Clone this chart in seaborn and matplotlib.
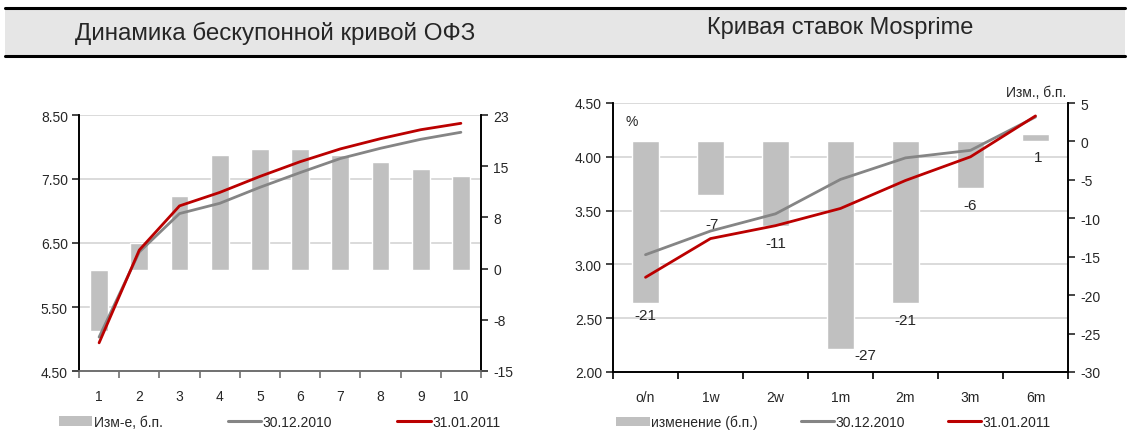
import numpy as np
import pandas as pd
import matplotlib
matplotlib.use('agg')
import matplotlib.pyplot as plt
import matplotlib.transforms as mtransforms
from matplotlib.patches import Patch, Rectangle
from matplotlib.lines import Line2D
import seaborn as sns

# ---- data: zero-coupon OFZ curve
ofz_terms = ['1', '2', '3', '4', '5', '6', '7', '8', '9', '10']
ofz_chg = [-9, 4, 11, 17, 18, 18, 17, 16, 15, 14]
ofz_dec = [5.03, 6.36, 6.96, 7.12, 7.37, 7.60, 7.82, 7.98, 8.12, 8.23]
ofz_jan = [4.94, 6.39, 7.08, 7.29, 7.54, 7.77, 7.97, 8.13, 8.27, 8.37]

# ---- data: Mosprime curve
mp_terms = ['o/n', '1w', '2w', '1m', '2m', '3m', '6m']
mp_chg = [-21, -7, -11, -27, -21, -6, 1]
mp_dec = [3.09, 3.31, 3.47, 3.79, 3.99, 4.06, 4.37]
mp_jan = [2.88, 3.24, 3.36, 3.52, 3.78, 4.00, 4.38]

ofz_df = pd.DataFrame({'term': ofz_terms, 'chg': ofz_chg, 'dec': ofz_dec, 'jan': ofz_jan})
mp_df = pd.DataFrame({'term': mp_terms, 'chg': mp_chg, 'dec': mp_dec, 'jan': mp_jan})

BAR_C = '#C0C0C0'
GRAY_C = '#858585'
RED_C = '#BB0000'
GRID_C = '#D4D4D4'

sns.set_style('white', {'xtick.bottom': True, 'ytick.left': True})
plt.rcParams['font.family'] = ['Liberation Sans', 'DejaVu Sans']
plt.rcParams['font.size'] = 10

fig = plt.figure(figsize=(11.36, 4.35), dpi=100)

# title band
fig.patches.append(Rectangle((5 / 1136, 1 - 57 / 435), 1120 / 1136, 48 / 435,
                             transform=fig.transFigure, facecolor='#E6E6E6', edgecolor='none'))
for yy in (9, 57):
    fig.lines.append(Line2D([5 / 1136, 1125 / 1136], [1 - yy / 435] * 2,
                            transform=fig.transFigure, color='black', lw=2.2))
fig.text(275 / 1136, 1 - 33 / 435, 'Динамика бескупонной кривой ОФЗ',
         ha='center', va='center', fontsize=17.4)
fig.text(840 / 1136, 1 - 28 / 435, 'Кривая ставок Mosprime', ha='center', va='center', fontsize=17)


def combo(rect, df, ylim_l, yticks_l, ylim_r, yticks_r, rlabels, bar_w, bottom_c):
    ax = fig.add_axes(rect)
    axb = ax.twinx()
    ax.set_zorder(axb.get_zorder() + 1)
    ax.patch.set_visible(False)
    n = len(df)
    pos = np.arange(n)

    sns.barplot(data=df, x='term', y='chg', ax=axb, color=BAR_C, width=bar_w,
                saturation=1, zorder=2)
    sns.lineplot(x=pos, y=df['dec'], ax=ax, color=GRAY_C, lw=2.0)
    sns.lineplot(x=pos, y=df['jan'], ax=ax, color=RED_C, lw=2.0)

    ax.set_ylim(*ylim_l)
    ax.set_yticks(yticks_l)
    ax.set_yticklabels([f'{v:.2f}' for v in yticks_l])
    axb.set_ylim(*ylim_r)
    axb.set_yticks(yticks_r)
    axb.set_yticklabels(rlabels)

    # gridlines at left-axis ticks, kept behind bars
    tr = mtransforms.blended_transform_factory(axb.transAxes, ax.transData)
    for v in yticks_l[1:]:
        axb.plot([0, 1], [v, v], transform=tr, color=GRID_C, lw=1.2, zorder=0)

    ax.set_xlim(-0.5, n - 0.5)
    ax.set_xticks(np.arange(n + 1) - 0.5)
    ax.set_xticklabels([])
    ax.set_xticks(pos, minor=True)
    ax.set_xticklabels(df['term'], minor=True)
    ax.xaxis.set_tick_params(which='major', bottom=True, direction='out', length=5,
                             width=1.2, color=bottom_c)
    ax.xaxis.set_tick_params(which='minor', bottom=True, length=0, pad=13, labelsize=10)
    ax.tick_params(axis='y', direction='out', length=5, width=1.2, pad=3, labelsize=10, left=True)
    axb.tick_params(axis='y', direction='out', length=5, width=1.2, pad=4, labelsize=10, right=True)
    axb.set_xlabel('')
    axb.set_ylabel('')
    ax.set_xlabel('')
    ax.set_ylabel('')

    for a in (ax, axb):
        a.spines['top'].set_visible(False)
        a.spines['left'].set_color('black')
        a.spines['right'].set_color('black')
        a.spines['bottom'].set_color(bottom_c)
        for s in ('left', 'right', 'bottom'):
            a.spines[s].set_linewidth(1.2)
    return ax, axb


# ---- left chart
ax1, ax1b = combo([79 / 1136, 1 - 372 / 435, 402 / 1136, 256 / 435], ofz_df,
                  (4.5, 8.5), [4.5, 5.5, 6.5, 7.5, 8.5],
                  (-15, 23), np.linspace(-15, 23, 6), ['-15', '-8', '0', '8', '15', '23'],
                  0.44, '#707070')
h1 = [Patch(facecolor=BAR_C, edgecolor='none'),
      Line2D([], [], color=GRAY_C, lw=2.2), Line2D([], [], color=RED_C, lw=2.2)]
ax1.legend(h1, ['Изм-е, б.п.', '30.12.2010', '31.01.2011'], loc='center left',
           bbox_to_anchor=(-0.05, -0.2), ncol=3, frameon=False, handlelength=2.4,
           handletextpad=0.1, columnspacing=4.7, borderaxespad=0, borderpad=0, fontsize=10)

# ---- right chart
ax2, ax2b = combo([613 / 1136, 1 - 373 / 435, 455 / 1136, 269 / 435], mp_df,
                  (2.0, 4.5), [2.0, 2.5, 3.0, 3.5, 4.0, 4.5],
                  (-30, 5), np.arange(-30, 6, 5), [str(v) for v in range(-30, 6, 5)],
                  0.41, 'black')

label_off = {'o/n': (0, -12), '1w': (2, -29), '2w': (0, -17), '1m': (25, -6),
             '2m': (0, -17), '3m': (0, -17), '6m': (3, -23)}
for i, (t, v) in enumerate(zip(mp_terms, mp_chg)):
    ax2b.annotate(str(v), (i, v), xytext=label_off[t], textcoords='offset pixels',
                  ha='center', va='center', fontsize=11)

ax2.text(0.04, 0.933, '%', transform=ax2.transAxes, ha='center', va='center', fontsize=10)
ax2.text(0.996, 1.041, 'Изм., б.п.', transform=ax2.transAxes, ha='right', va='center', fontsize=10)

h2 = [Patch(facecolor=BAR_C, edgecolor='none'),
      Line2D([], [], color=GRAY_C, lw=2.2), Line2D([], [], color=RED_C, lw=2.2)]
ax2.legend(h2, ['изменение (б.п.)', '30.12.2010', '31.01.2011'], loc='center left',
           bbox_to_anchor=(0.007, -0.186), ncol=3, frameon=False, handlelength=2.4,
           handletextpad=0.1, columnspacing=3.1, borderaxespad=0, borderpad=0, fontsize=10)

fig.savefig('out.png', dpi=100)
